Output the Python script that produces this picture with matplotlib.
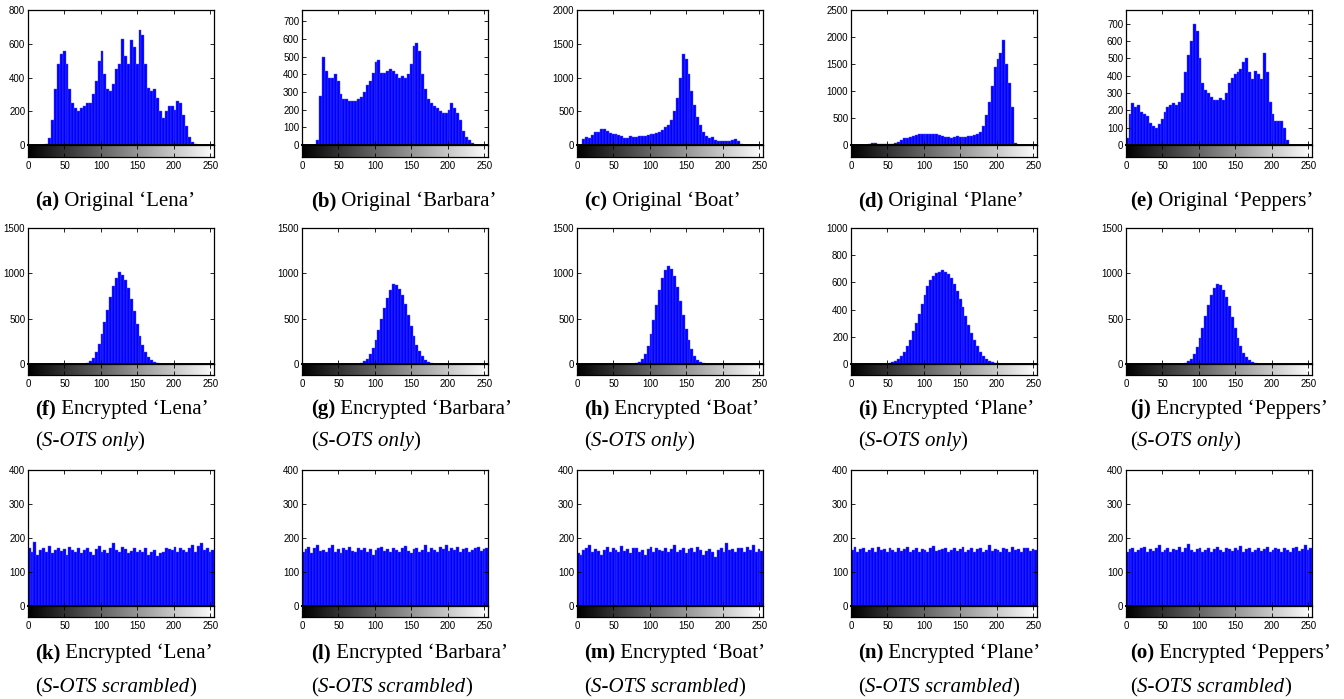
import numpy as np
import matplotlib
matplotlib.use("Agg")
import matplotlib.pyplot as plt
from matplotlib.text import Annotation

# histogram counts, 64 bins of 4 gray levels each (0..255)
orig_lena = [0, 0, 0, 0, 0, 0, 5, 40, 150, 330, 480, 540, 560, 480, 330, 250,
             220, 200, 220, 230, 250, 250, 300, 380, 500, 560, 420, 330, 320, 360, 450, 480,
             630, 530, 480, 620, 580, 480, 680, 650, 480, 340, 320, 330, 280, 200, 160, 200,
             230, 230, 210, 260, 250, 180, 110, 50, 15, 5, 0, 0, 0, 0, 0, 0]
orig_barbara = [0, 0, 0, 0, 0, 30, 280, 500, 420, 380, 380, 400, 360, 290, 260, 260,
                250, 250, 250, 260, 270, 300, 340, 360, 410, 470, 480, 410, 410, 420, 430, 420,
                400, 380, 390, 380, 400, 460, 560, 580, 530, 400, 320, 260, 240, 220, 210, 190,
                180, 180, 200, 240, 210, 180, 140, 80, 45, 30, 10, 0, 0, 0, 0, 0]
orig_boat = [0, 0, 90, 120, 100, 150, 200, 200, 240, 240, 210, 180, 170, 160, 150, 130,
             110, 110, 130, 120, 120, 130, 130, 140, 150, 160, 170, 180, 200, 220, 260, 300,
             370, 500, 700, 1000, 1350, 1280, 1050, 800, 600, 420, 300, 200, 140, 110, 120, 80,
             60, 60, 60, 55, 60, 70, 95, 60, 20, 0, 0, 0, 0, 0, 0, 0]
orig_plane = [0, 0, 0, 0, 0, 0, 20, 30, 30, 25, 25, 20, 20, 20, 25, 40,
              60, 100, 130, 130, 140, 160, 180, 200, 210, 200, 210, 200, 210, 200, 190, 170,
              150, 140, 130, 150, 170, 150, 140, 150, 160, 170, 180, 200, 250, 350, 550, 800,
              1100, 1450, 1600, 1700, 1950, 1500, 1150, 700, 30, 0, 0, 0, 0, 0, 0, 0]
orig_peppers = [40, 180, 240, 220, 230, 190, 180, 170, 130, 110, 100, 120, 150, 190, 220, 230,
                240, 230, 250, 300, 420, 520, 600, 700, 660, 500, 360, 320, 300, 280, 260, 260,
                270, 260, 300, 360, 390, 410, 420, 440, 480, 500, 420, 380, 430, 410, 380, 530,
                420, 250, 180, 140, 140, 140, 100, 30, 0, 0, 0, 0, 0, 0, 0, 0]

sots_lena = [0] * 19 + [5, 15, 35, 70, 130, 220, 330, 460, 600, 740, 860, 950, 1010, 980,
                        930, 840, 720, 580, 440, 310, 210, 130, 75, 40, 20, 8, 3] + [0] * 18
sots_barbara = [0] * 19 + [5, 12, 30, 60, 110, 180, 270, 380, 500, 620, 730, 820, 880, 870,
                           830, 760, 660, 540, 420, 310, 210, 140, 85, 45, 22, 10, 4] + [0] * 18
sots_boat = [0] * 19 + [2, 8, 20, 50, 110, 200, 330, 480, 650, 820, 950, 1040, 1080, 1050,
                        970, 850, 700, 540, 390, 260, 160, 90, 45, 20, 8, 3, 1] + [0] * 18
sots_plane = [0] * 12 + [3, 6, 12, 22, 38, 60, 90, 130, 180, 240, 300, 370, 440, 510, 570, 620,
                         650, 670, 680, 690, 680, 660, 630, 590, 540, 480, 420, 350, 290, 230,
                         180, 130, 90, 60, 40, 25, 14, 8, 4, 2] + [0] * 12
sots_peppers = [0] * 19 + [4, 12, 30, 60, 115, 190, 290, 400, 530, 650, 760, 840, 880, 870,
                           820, 740, 640, 520, 400, 290, 195, 125, 75, 40, 20, 9, 3] + [0] * 18

scr_lena = [172, 158, 188, 150, 166, 170, 160, 176, 155, 165, 171, 161, 168, 150, 173, 165,
            158, 170, 155, 166, 172, 160, 151, 168, 176, 160, 165, 155, 170, 185, 165, 160,
            173, 168, 156, 162, 170, 158, 165, 160, 170, 150, 160, 165, 146, 155, 160, 172,
            168, 166, 175, 160, 170, 165, 160, 172, 178, 160, 176, 186, 165, 170, 160, 165]
scr_barbara = [160, 168, 175, 155, 170, 178, 162, 165, 158, 172, 180, 160, 168, 155, 170, 165,
               175, 162, 158, 170, 165, 172, 160, 168, 150, 165, 170, 175, 162, 168, 158, 172,
               165, 160, 170, 176, 162, 155, 168, 172, 160, 165, 178, 160, 170, 165, 158, 175,
               168, 180, 162, 170, 165, 175, 160, 168, 172, 158, 165, 170, 175, 162, 168, 172]
scr_boat = [155, 150, 165, 172, 178, 160, 168, 162, 150, 165, 175, 160, 170, 165, 158, 176,
            162, 168, 155, 170, 172, 160, 165, 150, 168, 175, 160, 170, 165, 162, 172, 158,
            168, 180, 160, 165, 170, 155, 168, 172, 160, 175, 165, 150, 162, 168, 160, 145,
            165, 172, 160, 185, 165, 168, 158, 172, 170, 160, 175, 165, 180, 160, 168, 162]
scr_plane = [165, 175, 160, 168, 172, 158, 165, 170, 160, 175, 165, 168, 160, 172, 165, 158,
             170, 162, 168, 175, 160, 165, 172, 160, 168, 165, 160, 170, 176, 162, 165, 168,
             172, 160, 165, 170, 162, 168, 175, 160, 165, 170, 158, 168, 172, 160, 165, 178,
             162, 168, 165, 160, 172, 168, 160, 175, 165, 168, 160, 172, 170, 162, 168, 165]
scr_peppers = [160, 168, 172, 158, 165, 170, 175, 160, 168, 162, 170, 178, 160, 165, 172, 158,
               168, 165, 175, 160, 170, 182, 165, 160, 168, 172, 160, 165, 170, 158, 168, 175,
               165, 160, 172, 168, 162, 170, 165, 176, 160, 168, 172, 160, 165, 170, 162, 168,
               175, 160, 165, 170, 168, 160, 172, 165, 160, 170, 175, 162, 168, 178, 165, 172]

image_names = ["Lena", "Barbara", "Boat", "Plane", "Peppers"]
rows_data = [
    [orig_lena, orig_barbara, orig_boat, orig_plane, orig_peppers],
    [sots_lena, sots_barbara, sots_boat, sots_plane, sots_peppers],
    [scr_lena, scr_barbara, scr_boat, scr_plane, scr_peppers],
]
row_ylims = [[800, 765, 2000, 2500, 780],
             [1500, 1500, 1500, 1000, 1500],
             [400, 400, 400, 400, 400]]
row_ysteps = [[200, 100, 500, 500, 100],
              [500, 500, 500, 200, 500],
              [100, 100, 100, 100, 100]]
row_prefix = ["Original", "Encrypted", "Encrypted"]
row_suffix = [None, "S-OTS only", "S-OTS scrambled"]
letters = "abcdefghijklmno"

W, H = 1344, 699
fig = plt.figure(figsize=(W / 100, H / 100), dpi=100)

col_left = [28, 302, 577, 851, 1126]
ax_w = 186
row_top = [10, 228, 470]
row_zero = [145, 364, 606]
row_cbar = [157, 375, 617]
cap_y = [[211], [419, 451], [663, 697]]
cap_x = [35, 311, 584, 858, 1130]

tick_font = {"family": "Liberation Sans", "size": 7}
serif = "Liberation Serif"
cap_size = 15


def px_rect(left, top, width, height):
    return [left / W, 1 - (top + height) / H, width / W, height / H]


def caption(x, y, parts):
    t = fig.text(x / W, 1 - y / H, parts[0][0], ha="left", va="bottom",
                 family=serif, size=cap_size, weight=parts[0][1], style=parts[0][2])
    for text, weight, style in parts[1:]:
        t = fig.add_artist(Annotation(text, xy=(1, 0), xycoords=t, ha="left", va="bottom",
                                      family=serif, size=cap_size, weight=weight, style=style))


gradient = np.linspace(0, 1, 256).reshape(1, -1)

for r in range(3):
    for c in range(5):
        counts = np.array(rows_data[r][c], dtype=float)
        nb = len(counts)
        bw = 256 / nb
        centers = np.arange(nb) * bw + bw / 2 - 0.5

        ax = fig.add_axes(px_rect(col_left[c], row_top[r], ax_w, row_zero[r] - row_top[r]))
        ax.bar(centers, counts, width=bw, color="#0000ff", edgecolor="#5050ff", linewidth=0.3)
        ax.set_xlim(0, 255)
        ax.set_ylim(0, row_ylims[r][c])
        ax.set_yticks(np.arange(0, row_ylims[r][c] + 1, row_ysteps[r][c]))
        ax.set_xticks(np.arange(0, 251, 50))
        ax.tick_params(direction="in", top=True, right=True, length=3, width=0.6,
                       labelbottom=False, pad=2)
        for lab in ax.get_yticklabels():
            lab.set_fontproperties(tick_font)
        for sp in ax.spines.values():
            sp.set_linewidth(0.9)
        ax.spines["bottom"].set_linewidth(1.4)

        cax = fig.add_axes(px_rect(col_left[c], row_zero[r], ax_w, row_cbar[r] - row_zero[r]))
        cax.imshow(gradient, cmap="gray", aspect="auto", extent=[0, 255, 0, 1])
        cax.set_xlim(0, 255)
        cax.set_yticks([])
        cax.set_xticks(np.arange(0, 251, 50))
        cax.tick_params(direction="in", top=True, length=3, width=0.6, pad=3)
        for lab in cax.get_xticklabels():
            lab.set_fontproperties(tick_font)
        for sp in cax.spines.values():
            sp.set_linewidth(0.9)

        idx = r * 5 + c
        caption(cap_x[c], cap_y[r][0],
                [("(%s)" % letters[idx], "bold", "normal"),
                 (" %s \u2018%s\u2019" % (row_prefix[r], image_names[c]), "normal", "normal")])
        if row_suffix[r]:
            caption(cap_x[c], cap_y[r][1],
                    [("(", "normal", "normal"), (row_suffix[r], "normal", "italic"),
                     (")", "normal", "normal")])

fig.savefig("out.png", dpi=100)
